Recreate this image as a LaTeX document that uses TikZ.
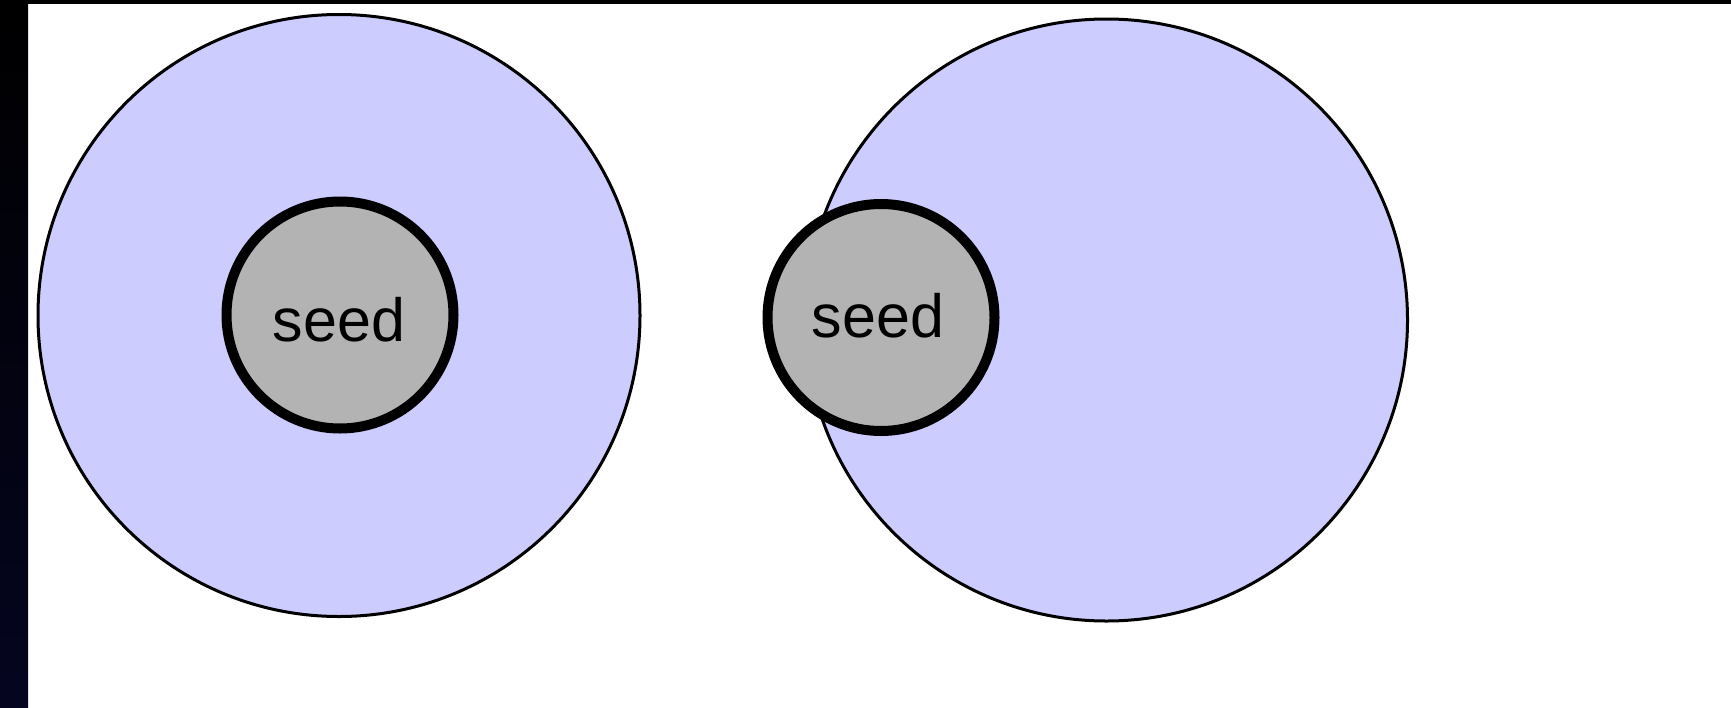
\documentclass[tikz,border=0pt]{standalone}
\usepackage{fontspec}
\setmainfont{Liberation Sans}
\definecolor{cellblue}{RGB}{204,204,255}
\definecolor{seedgray}{RGB}{179,179,179}
\definecolor{barbottom}{RGB}{5,5,32}
\begin{document}
\begin{tikzpicture}[x=1pt,y=-1pt,
  region/.style={circle,draw=black,fill=cellblue,line width=3pt,minimum size=602pt,inner sep=0pt},
  seedbox/.style={circle,draw=black,fill=seedgray,line width=10pt,minimum size=227pt,inner sep=0pt},
  seedlabel/.style={font=\fontsize{61}{70}\selectfont,anchor=base,inner sep=0pt}]
\useasboundingbox (0,0) rectangle (1731,707);
\fill[white] (0,0) rectangle (1731,707);
\fill[black] (0,0) rectangle (1731,4);
\shade[top color=black,bottom color=barbottom] (0,0) rectangle (28,707);
\node[region] (regionA) at (339,315.5) {};
\node[seedbox] (seedA) at (340,315) {};
\node[seedlabel] (labelA) at (339,341) {seed};
\node[region] (regionB) at (1106.5,320) {};
\node[seedbox] (seedB) at (881,317.5) {};
\node[seedlabel] (labelB) at (878,337) {seed};
\end{tikzpicture}
\end{document}
